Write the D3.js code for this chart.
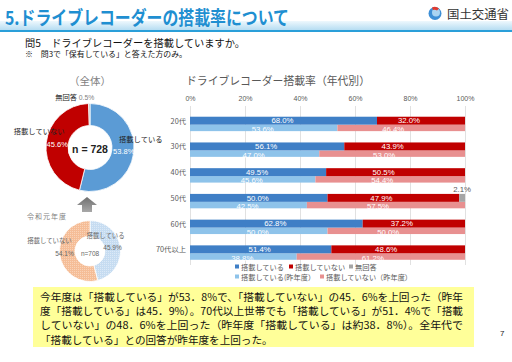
<!DOCTYPE html>
<html><head><meta charset="utf-8">
<script src="https://cdn.jsdelivr.net/npm/d3@7"></script>
<style>body{margin:0;background:#fff}svg{display:block}</style>
</head><body><div id="chart"></div>
<script>
// 年代別
const ages = ["20代", "30代", "40代", "50代", "60代", "70代以上"];
const curYes = [68.0, 56.1, 49.5, 50.0, 62.8, 51.4];
const curNo = [32.0, 43.9, 50.5, 47.9, 37.2, 48.6];
const curNA = [0, 0, 0, 2.1, 0, 0];
const prevYes = [53.6, 47.0, 45.6, 42.5, 50.0, 38.8];
const prevNo = [46.4, 53.0, 54.4, 57.5, 50.0, 61.2];
const ticks = [0, 20, 40, 60, 80, 100];

// 全体
const totalLabels = ["搭載している", "搭載していない", "無回答"];
const totalValues = [53.8, 45.6, 0.5];
const totalN = 728;
const prevLabels = ["搭載している", "搭載していない"];
const prevValues = [45.9, 54.1];
const prevN = 708;

const legendLabels = ["搭載している", "搭載していない", "無回答", "搭載している(昨年度）", "搭載していない（昨年度）"];
const summaryLines = [
  "今年度は「搭載している」が53．8%で、「搭載していない」の45．6%を上回った（昨年",
  "度「搭載している」は45．9%）。70代以上世帯でも「搭載している」が51．4%で「搭載",
  "していない」の48．6%を上回った（昨年度「搭載している」は約38．8%）。全年代で",
  "「搭載している」との回答が昨年度を上回った。"
];

const width = 512, height = 362;
const JP = "'Noto Sans CJK JP', 'Noto Sans', sans-serif";
const LAT = "'Liberation Sans', Arial, sans-serif";

const svg = d3.select("#chart").append("svg")
  .attr("width", width).attr("height", height)
  .style("font-family", JP);
const defs = svg.append("defs");

// ---- header ----
const bandGrad = defs.append("linearGradient").attr("id", "band")
  .attr("x1", 0).attr("x2", 0).attr("y1", 0).attr("y2", 1);
bandGrad.append("stop").attr("offset", "0%").attr("stop-color", "#eef8fd");
bandGrad.append("stop").attr("offset", "100%").attr("stop-color", "#b6ddf2");
svg.append("rect").attr("x", 0).attr("y", 21).attr("width", width).attr("height", 9).attr("fill", "url(#band)");
svg.append("rect").attr("x", 0).attr("y", 30).attr("width", width).attr("height", 2).attr("fill", "#2a9fd9");

svg.append("text").attr("x", 5).attr("y", 24.5)
  .attr("font-size", 19).attr("font-weight", "bold").attr("fill", "#1f8fd1")
  .attr("textLength", 284).attr("lengthAdjust", "spacingAndGlyphs")
  .text("5.ドライブレコーダーの搭載率について");

// logo
const logo = svg.append("g").attr("transform", "translate(435,13.5)");
logo.append("circle").attr("r", 6.5).attr("fill", "#3d8fd6");
logo.append("circle").attr("r", 4).attr("cx", 1).attr("cy", -1).attr("fill", "#a9d4f2");
logo.append("path").attr("d", "M-3,-6 A6.5,6.5 0 0 1 4,-5 L2,-3 A4,4 0 0 0 -2,-3.5 Z").attr("fill", "#e03a2f");
svg.append("text").attr("x", 447).attr("y", 19).attr("font-size", 12).attr("fill", "#333")
  .attr("textLength", 62).attr("lengthAdjust", "spacingAndGlyphs").text("国土交通省");

// question
svg.append("text").attr("x", 25).attr("y", 46.5).attr("font-size", 10.5).attr("fill", "#111")
  .attr("textLength", 220).attr("lengthAdjust", "spacingAndGlyphs")
  .text("問5　ドライブレコーダーを搭載していますか。");
svg.append("text").attr("x", 25).attr("y", 56.5).attr("font-size", 7.6).attr("fill", "#111")
  .attr("textLength", 162).attr("lengthAdjust", "spacingAndGlyphs")
  .text("※　問3で「保有している」と答えた方のみ。");

// ---- overall donut ----
svg.append("text").attr("x", 90).attr("y", 85).attr("text-anchor", "middle")
  .attr("font-size", 10.5).attr("fill", "#7f7f7f").text("（全体）");

const pieColors = ["#5b9bd5", "#c00000", "#a5a5a5"];
const pie = d3.pie().sort(null).value(d => d);
const arc1 = d3.arc().innerRadius(22).outerRadius(44);
const arcs1 = pie(totalValues);
const g1 = svg.append("g").attr("transform", "translate(90,147.5)");
g1.selectAll("path").data(arcs1).join("path")
  .attr("d", arc1).attr("fill", (d, i) => pieColors[i])
  .attr("stroke", "#fff").attr("stroke-width", 0.8);

arcs1.slice(0, 2).forEach((d, i) => {
  const [cx, cy] = arc1.centroid(d);
  const side = cx > 0 ? 1 : -1;
  g1.append("text").attr("x", cx + (side > 0 ? 1 : 0)).attr("y", cy + 2.5)
    .attr("text-anchor", "middle").attr("font-size", 7.5).attr("fill", "#fff")
    .style("font-family", LAT).text(totalValues[i].toFixed(1) + "%");
  g1.append("text").attr("x", cx + side * 18).attr("y", cy - 10)
    .attr("text-anchor", "middle").attr("font-size", 7.3).attr("fill", "#222")
    .text(totalLabels[i]);
});
{
  const d = arcs1[2];
  const a = (d.startAngle + d.endAngle) / 2;
  const lx = Math.sin(a) * 50, ly = -Math.cos(a) * 50;
  const t = g1.append("text").attr("x", lx + 5).attr("y", ly + 2).attr("text-anchor", "end").attr("font-size", 7.3);
  t.append("tspan").attr("fill", "#222").text(totalLabels[2] + " ");
  t.append("tspan").attr("fill", "#7f7f7f").style("font-family", LAT).attr("font-size", 6.8).text(totalValues[2].toFixed(1) + "%");
}
g1.append("text").attr("y", 5).attr("text-anchor", "middle").attr("font-size", 10.5)
  .attr("font-weight", "bold").attr("fill", "#222").style("font-family", LAT)
  .text("n = " + totalN);

// arrow
const arrGrad = defs.append("linearGradient").attr("id", "arr")
  .attr("x1", 0).attr("x2", 0).attr("y1", 0).attr("y2", 1);
arrGrad.append("stop").attr("offset", "0%").attr("stop-color", "#6f6f6f");
arrGrad.append("stop").attr("offset", "100%").attr("stop-color", "#a8a8a8");
svg.append("path").attr("d", "M87,197 L97,205 L92,205 L92,212 L82,212 L82,205 L77,205 Z")
  .attr("fill", "url(#arr)");

// ---- previous-year donut ----
svg.append("text").attr("x", 27).attr("y", 218.5).attr("font-size", 7).attr("fill", "#7f7f7f")
  .attr("letter-spacing", 1).text("令和元年度");

function dotPattern(id, base, dot) {
  const p = defs.append("pattern").attr("id", id).attr("patternUnits", "userSpaceOnUse")
    .attr("width", 2).attr("height", 2);
  p.append("rect").attr("width", 2).attr("height", 2).attr("fill", base);
  p.append("rect").attr("width", 1).attr("height", 1).attr("fill", dot);
}
dotPattern("pBlue", "#c6dcf1", "#dbe9f7");
dotPattern("pSalmon", "#f5bd97", "#f9d3b8");
const prevFills = ["url(#pBlue)", "url(#pSalmon)"];
const arc2 = d3.arc().innerRadius(15).outerRadius(30.5);
const arcs2 = pie(prevValues);
const g2 = svg.append("g").attr("transform", "translate(90,251)");
g2.selectAll("path").data(arcs2).join("path")
  .attr("d", arc2).attr("fill", (d, i) => prevFills[i])
  .attr("stroke", "#fff").attr("stroke-width", 0.8);
const nameOff = [[-7, -12], [-18, -12.5]];
arcs2.forEach((d, i) => {
  const [cx, cy] = arc2.centroid(d);
  g2.append("text").attr("x", cx - (i ? 3 : 0)).attr("y", cy + 2)
    .attr("text-anchor", "middle").attr("font-size", 6.5).attr("fill", "#666")
    .style("font-family", LAT).text(prevValues[i].toFixed(1) + "%");
  g2.append("text").attr("x", cx + nameOff[i][0]).attr("y", cy + nameOff[i][1] + 2)
    .attr("text-anchor", "middle").attr("font-size", 6.4).attr("fill", "#666")
    .text(prevLabels[i]);
});
g2.append("text").attr("y", 5).attr("text-anchor", "middle").attr("font-size", 6.5)
  .attr("fill", "#666").style("font-family", LAT).text("n=" + prevN);

// ---- bar chart ----
svg.append("text").attr("x", 186).attr("y", 85).attr("font-size", 11).attr("fill", "#595959")
  .attr("textLength", 184).attr("lengthAdjust", "spacingAndGlyphs")
  .text("ドライブレコーダー搭載率（年代別）");

const x = d3.scaleLinear().domain([0, 100]).range([190, 465]);
const y = d3.scaleBand().domain(ages).range([109, 267.5]).paddingInner(0.44).paddingOuter(0.3);
const bw = y.bandwidth();
const hCur = bw * 0.55, hPrev = bw - hCur;

const grid = svg.append("g").attr("transform", "translate(0,106)")
  .call(d3.axisBottom(x).tickValues(ticks).tickSize(159).tickFormat(""));
grid.select(".domain").remove();
grid.selectAll("line").attr("stroke", "#d9d9d9").attr("stroke-width", 0.8);

const topAxis = svg.append("g").attr("transform", "translate(0,104)")
  .call(d3.axisTop(x).tickValues(ticks).tickSize(0).tickPadding(3).tickFormat(d => d + "%"));
topAxis.select(".domain").remove();
topAxis.selectAll("text").attr("font-size", 7).attr("fill", "#595959").style("font-family", LAT);

const rows = ages.map((a, i) => ({ age: a, yes: curYes[i], no: curNo[i], na: curNA[i], pyes: prevYes[i], pno: prevNo[i] }));
const curStack = d3.stack().keys(["yes", "no", "na"])(rows);
const prevStack = d3.stack().keys(["pyes", "pno"])(rows);
const curColors = ["#3f7fc6", "#c00000", "#a5a5a5"];
const prevColors = ["#8ec3ea", "#e89090"];

const gPrev = svg.append("g");
prevStack.forEach((s, k) => {
  gPrev.selectAll(null).data(s).join("rect")
    .attr("x", d => x(d[0])).attr("width", d => x(d[1]) - x(d[0]))
    .attr("y", d => y(d.data.age) + hCur).attr("height", hPrev)
    .attr("fill", prevColors[k]);
});
const gCur = svg.append("g");
curStack.forEach((s, k) => {
  gCur.selectAll(null).data(s.filter(d => d[1] > d[0])).join("rect")
    .attr("x", d => x(d[0])).attr("width", d => x(d[1]) - x(d[0]))
    .attr("y", d => y(d.data.age)).attr("height", hCur)
    .attr("fill", curColors[k]);
});

// red labels sit a little left of the segment middle, as in the original
const lab = svg.append("g").style("font-family", LAT).attr("font-size", 7.8).attr("text-anchor", "middle");
prevStack.forEach((s, k) => {
  lab.selectAll(null).data(s).join("text")
    .attr("x", d => x((d[0] + d[1]) / 2) - (k ? 8 : 1)).attr("y", d => y(d.data.age) + hCur + hPrev / 2 + 4)
    .attr("fill", "#fff").text(d => (d[1] - d[0]).toFixed(1) + "%");
});
curStack.slice(0, 2).forEach((s, k) => {
  lab.selectAll(null).data(s).join("text")
    .attr("x", d => x((d[0] + d[1]) / 2) - (k ? 12 : 1)).attr("y", d => y(d.data.age) + hCur / 2 + 2.8)
    .attr("fill", "#fff").text(d => (d[1] - d[0]).toFixed(1) + "%");
});
lab.selectAll(null).data(curStack[2].filter(d => d[1] > d[0])).join("text")
  .attr("x", d => x((d[0] + d[1]) / 2)).attr("y", d => y(d.data.age) - 2)
  .attr("fill", "#595959").text(d => (d[1] - d[0]).toFixed(1) + "%");

svg.append("g").selectAll("text").data(ages).join("text")
  .attr("x", 186).attr("y", d => y(d) + hCur / 2 + 3)
  .attr("text-anchor", "end").attr("font-size", 7.3).attr("fill", "#595959").text(d => d);

// legend
const legColors = curColors.concat(prevColors);
const legPos = [[235, 267], [289, 267], [349, 267], [235, 277], [320, 277]];
const leg = svg.append("g");
legendLabels.forEach((t, i) => {
  const [lx, ly] = legPos[i];
  leg.append("rect").attr("x", lx).attr("y", ly - 2.5).attr("width", 4).attr("height", 4).attr("fill", legColors[i]);
  leg.append("text").attr("x", lx + 6).attr("y", ly + 2.5).attr("font-size", 7.2).attr("fill", "#595959").text(t);
});

// ---- summary box ----
svg.append("rect").attr("x", 33).attr("y", 287).attr("width", 441).attr("height", 60).attr("fill", "#ffff99");
svg.append("g").selectAll("text").data(summaryLines).join("text")
  .attr("x", 40).attr("y", (d, i) => 301 + i * 14.2)
  .attr("font-size", 10.6).attr("fill", "#111")
  .each(function (d, i) {
    if (i < 3) d3.select(this).attr("textLength", 423).attr("lengthAdjust", "spacingAndGlyphs");
  })
  .text(d => d);

svg.append("text").attr("x", 500).attr("y", 336).attr("font-size", 8).attr("fill", "#222")
  .style("font-family", LAT).text("7");
</script>
</body></html>
